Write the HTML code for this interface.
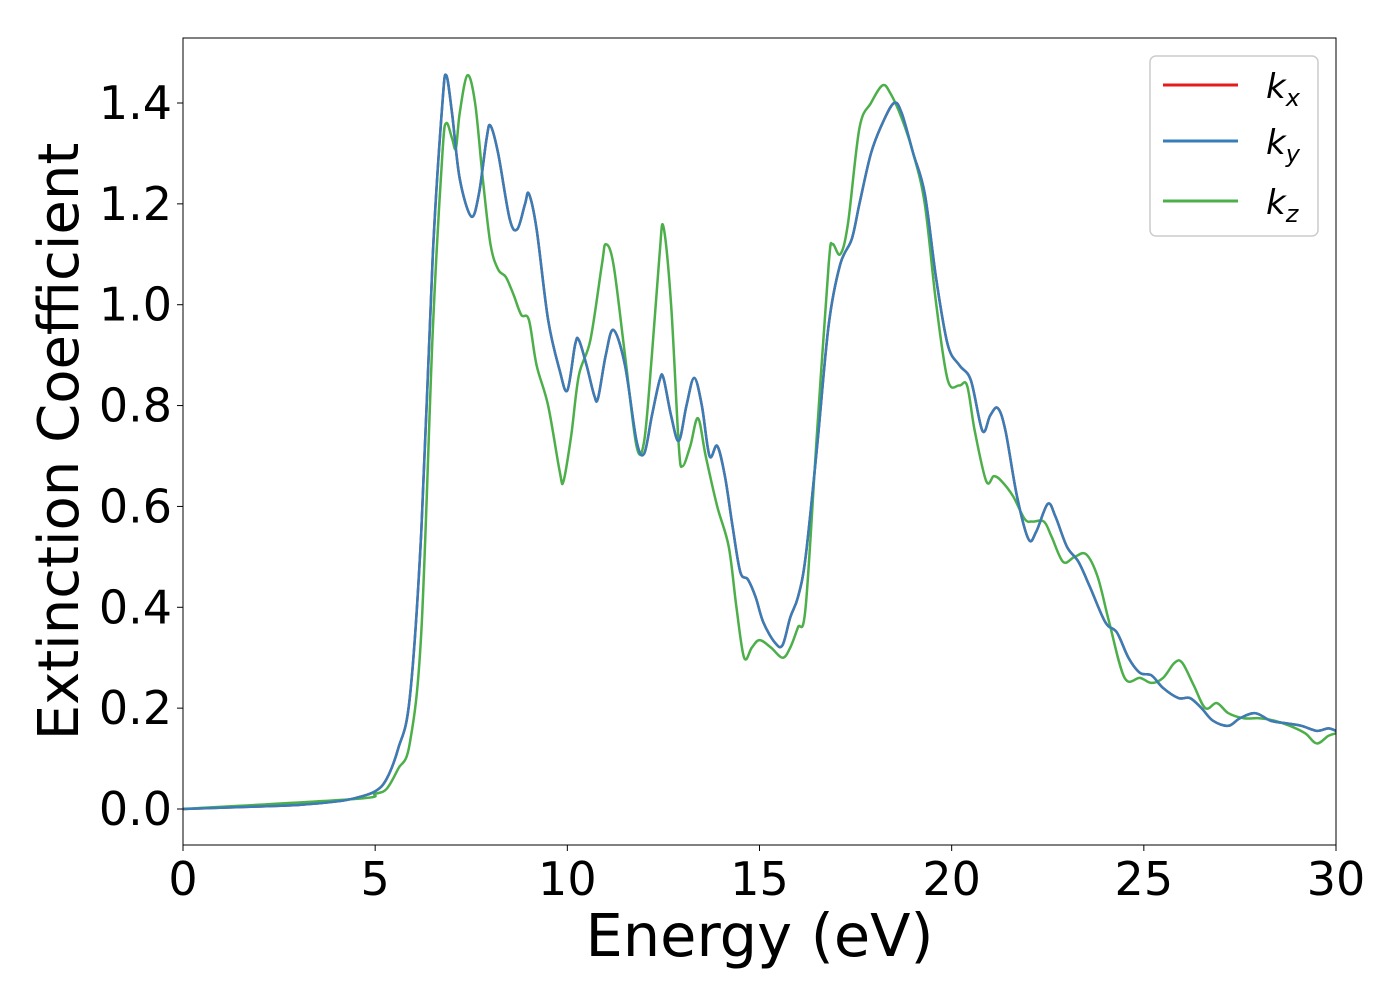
<!DOCTYPE html>
<html><head><meta charset="utf-8"><style>
body{margin:0;background:#fff;}
svg text{font-family:"DejaVu Sans","Liberation Sans",sans-serif;}
</style></head><body>
<svg id="chart" width="1400" height="1000" xmlns="http://www.w3.org/2000/svg">
<rect width="1400" height="1000" fill="#fff"/>
<g id="plot"></g>
</svg>
<script>
const energyBlue=[0,2,3,4,4.5,5,5.3,5.6,5.9,6.2,6.5,6.75,6.85,7.0,7.2,7.5,7.7,7.9,8.0,8.2,8.5,8.7,8.9,9.0,9.2,9.5,9.8,10.0,10.2,10.3,10.5,10.7,10.8,11.0,11.2,11.5,11.8,12.0,12.2,12.4,12.5,12.7,12.9,13.1,13.3,13.5,13.7,13.9,14.1,14.3,14.5,14.7,14.9,15.1,15.4,15.6,15.8,16.0,16.2,16.5,16.8,17.1,17.4,17.6,17.9,18.2,18.5,18.7,19.0,19.3,19.6,19.9,20.2,20.5,20.8,21.0,21.2,21.4,21.7,22.0,22.2,22.5,22.7,23.0,23.3,23.6,24.0,24.3,24.6,24.9,25.2,25.5,25.9,26.2,26.5,26.8,27.2,27.5,27.9,28.3,28.7,29.1,29.5,29.8,30];
const kx=[0,0.005,0.008,0.015,0.022,0.035,0.06,0.12,0.22,0.55,1.1,1.4,1.455,1.38,1.25,1.175,1.22,1.33,1.355,1.3,1.17,1.15,1.2,1.22,1.15,0.97,0.87,0.83,0.92,0.93,0.88,0.82,0.815,0.9,0.95,0.88,0.73,0.705,0.78,0.85,0.855,0.78,0.73,0.8,0.855,0.8,0.7,0.72,0.66,0.56,0.47,0.455,0.42,0.37,0.33,0.325,0.38,0.42,0.5,0.72,0.96,1.08,1.13,1.2,1.3,1.36,1.4,1.38,1.3,1.22,1.05,0.92,0.88,0.85,0.75,0.78,0.795,0.75,0.62,0.535,0.55,0.605,0.58,0.52,0.49,0.44,0.37,0.35,0.3,0.27,0.265,0.24,0.22,0.22,0.2,0.175,0.165,0.18,0.19,0.175,0.17,0.165,0.155,0.16,0.155];
const ky=kx.slice();
const energyGreen=[0,4.5,5.0,5.3,5.6,5.9,6.2,6.5,6.75,6.85,7.0,7.1,7.2,7.4,7.6,7.8,8.0,8.2,8.4,8.6,8.8,9.0,9.2,9.5,9.8,9.9,10.1,10.3,10.6,10.9,11.0,11.2,11.5,11.8,12.0,12.2,12.4,12.5,12.7,12.9,13.0,13.2,13.4,13.6,13.9,14.2,14.4,14.6,14.8,15.0,15.3,15.6,15.8,16.0,16.2,16.5,16.8,16.9,17.1,17.3,17.6,17.9,18.2,18.4,18.7,19.0,19.3,19.6,19.9,20.2,20.4,20.6,20.9,21.1,21.3,21.6,21.9,22.1,22.4,22.6,22.9,23.2,23.5,23.8,24.1,24.5,24.9,25.2,25.5,25.8,26.0,26.3,26.6,26.9,27.2,27.6,28.0,28.4,28.8,29.2,29.5,29.8,30];
const kz=[0,0.02,0.03,0.04,0.08,0.13,0.35,0.95,1.3,1.36,1.33,1.31,1.38,1.455,1.4,1.25,1.12,1.07,1.055,1.02,0.98,0.97,0.88,0.8,0.67,0.65,0.74,0.86,0.93,1.08,1.12,1.08,0.9,0.72,0.73,0.9,1.1,1.155,1.0,0.72,0.68,0.72,0.775,0.7,0.6,0.52,0.4,0.3,0.32,0.335,0.32,0.3,0.32,0.36,0.4,0.75,1.08,1.12,1.1,1.16,1.35,1.4,1.435,1.42,1.37,1.3,1.2,1.0,0.85,0.84,0.84,0.75,0.65,0.66,0.65,0.62,0.575,0.57,0.57,0.54,0.49,0.5,0.505,0.46,0.37,0.26,0.26,0.25,0.26,0.29,0.29,0.245,0.2,0.21,0.19,0.18,0.18,0.175,0.165,0.15,0.13,0.145,0.15];
const xTicks=[0,5,10,15,20,25,30];
const yTicks=[0,0.2,0.4,0.6,0.8,1.0,1.2,1.4];
const yTickLabels=["0.0","0.2","0.4","0.6","0.8","1.0","1.2","1.4"];

const L=183,R=1336,T=38,B=845;
const X=v=>L+(v-0)/(30-0)*(R-L);
const Y=v=>809-v*(809-103)/1.4;
const NS="http://www.w3.org/2000/svg";
const g=document.getElementById('plot');
function mk(t,a,p){const e=document.createElementNS(NS,t);for(const k in a)e.setAttribute(k,a[k]);(p||g).appendChild(e);return e;}

const defs=mk('defs',{});const cp=mk('clipPath',{id:'clip'},defs);mk('rect',{x:L,y:T,width:R-L,height:B-T},cp);

function smooth(xs,ys){
  const p=xs.map((x,i)=>[X(x),Y(ys[i])]);
  let d=`M${p[0][0]},${p[0][1]}`;
  for(let i=0;i<p.length-1;i++){
    const p0=p[i-1]||p[i],p1=p[i],p2=p[i+1],p3=p[i+2]||p2;
    const c1=[p1[0]+(p2[0]-p0[0])/6,p1[1]+(p2[1]-p0[1])/6];
    const c2=[p2[0]-(p3[0]-p1[0])/6,p2[1]-(p3[1]-p1[1])/6];
    d+=` C${c1[0]},${c1[1]} ${c2[0]},${c2[1]} ${p2[0]},${p2[1]}`;
  }
  return d;
}
const series=[[energyBlue,kx,'#e41a1c','series-kx'],[energyGreen,kz,'#4daf4a','series-kz'],[energyBlue,ky,'#377eb8','series-ky']];
series.forEach(s=>{
  const e=mk('path',{d:smooth(s[0],s[1]),fill:'none',stroke:s[2],'stroke-width':2.5,'clip-path':'url(#clip)'});
  
  
});

const fr=mk('rect',{x:L,y:T,width:R-L,height:B-T,fill:'none',stroke:'#000','stroke-width':1});



xTicks.forEach(v=>{
  mk('line',{x1:X(v),x2:X(v),y1:B,y2:B+6,stroke:'#000'});
  const t=mk('text',{x:X(v),y:B+50,'font-size':46,'text-anchor':'middle'});t.textContent=v;
  
  
});
yTicks.forEach((v,i)=>{
  mk('line',{x1:L-6,x2:L,y1:Y(v),y2:Y(v),stroke:'#000'});
  const t=mk('text',{x:L-11,y:Y(v)+16,'font-size':46,'text-anchor':'end'});t.textContent=yTickLabels[i];
  
  
});
const xt=mk('text',{x:(L+R)/2,y:956,'font-size':59,'text-anchor':'middle'});xt.textContent='Energy (eV)';


const yt=mk('text',{x:0,y:0,'font-size':56,'text-anchor':'middle',transform:`translate(78,${(T+B)/2}) rotate(-90)`});yt.textContent='Extinction Coefficient';



const lg=mk('g',{});


mk('rect',{x:1150,y:56,width:168,height:180,rx:6,fill:'#fff',stroke:'#ccc','stroke-width':1.5},lg);
[['#e41a1c','x',85],['#377eb8','y',141],['#4daf4a','z',201]].forEach(e=>{
  const ln=mk('line',{x1:1163,x2:1238,y1:e[2],y2:e[2],stroke:e[0],'stroke-width':3},lg);
  
  
  const t=mk('text',{x:1266,y:e[2]+13,'font-size':34,'font-style':'italic'},lg);
  
  
  t.textContent='k';
  const s=mk('tspan',{'font-size':24,dy:8},t);s.textContent=e[1];
});
</script>
</body></html>
